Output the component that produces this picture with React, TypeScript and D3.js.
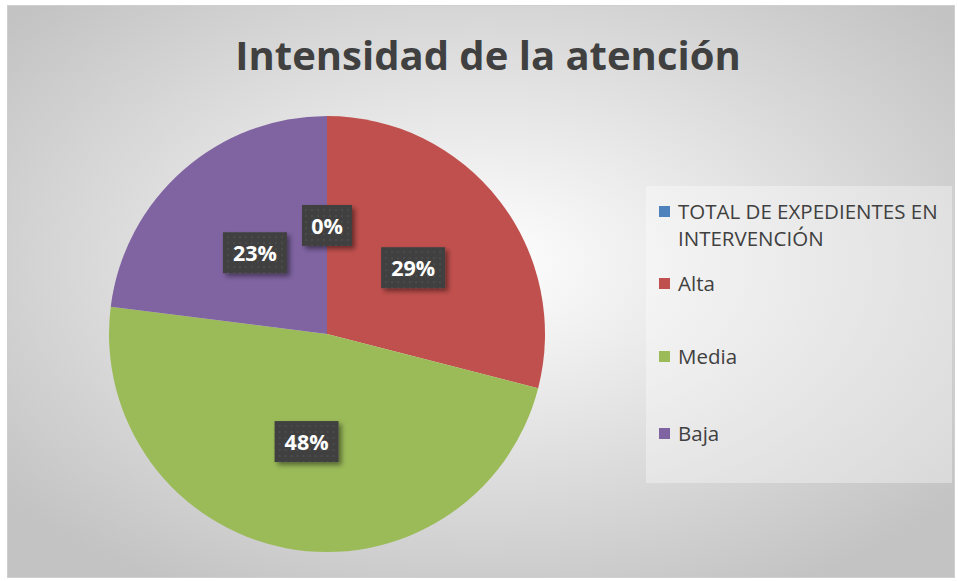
import React, { useEffect, useRef } from 'react';
import * as d3 from 'd3';

// chart data
const categories = ['TOTAL DE EXPEDIENTES EN INTERVENCIÓN', 'Alta', 'Media', 'Baja'];
const legendLines = [['TOTAL DE EXPEDIENTES EN', 'INTERVENCIÓN'], ['Alta'], ['Media'], ['Baja']];
const values = [0, 29, 48, 23];
const colors = ['#4f81bd', '#c0504d', '#9bbb59', '#8064a2'];
const title = 'Intensidad de la atención';

function App() {
  const svgRef = useRef<SVGSVGElement>(null);

  useEffect(() => {
    const svg = d3.select(svgRef.current);
    svg.selectAll('*').remove();
    const width = 958;
    const height = 581;
    const font = "'Open Sans', sans-serif";

    const defs = svg.append('defs');
    const bg = defs
      .append('radialGradient')
      .attr('id', 'bg')
      .attr('cx', '50%')
      .attr('cy', '45%')
      .attr('r', '65%');
    bg.append('stop').attr('offset', '0%').attr('stop-color', '#ffffff');
    bg.append('stop').attr('offset', '100%').attr('stop-color', '#c3c3c3');

    const dots = defs
      .append('pattern')
      .attr('id', 'dots')
      .attr('width', 6)
      .attr('height', 6)
      .attr('patternUnits', 'userSpaceOnUse');
    dots.append('rect').attr('width', 6).attr('height', 6).attr('fill', '#404040');
    dots.append('circle').attr('cx', 3).attr('cy', 3).attr('r', 1).attr('fill', '#505050');

    const shadow = defs.append('filter').attr('id', 'shadow').attr('x', '-30%').attr('y', '-30%').attr('width', '160%').attr('height', '160%');
    shadow
      .append('feDropShadow')
      .attr('dx', 3)
      .attr('dy', 3)
      .attr('stdDeviation', 2.5)
      .attr('flood-color', '#000')
      .attr('flood-opacity', 0.45);

    // background
    svg.append('rect').attr('width', width).attr('height', height).attr('fill', '#ffffff');
    svg
      .append('rect')
      .attr('x', 7.5)
      .attr('y', 5.5)
      .attr('width', 947)
      .attr('height', 572)
      .attr('fill', 'url(#bg)')
      .attr('stroke', '#cfcfcf')
      .attr('stroke-width', 1);

    svg
      .append('text')
      .attr('x', 488)
      .attr('y', 70)
      .attr('text-anchor', 'middle')
      .attr('font-family', font)
      .attr('font-weight', 'bold')
      .attr('font-size', 40)
      .attr('fill', '#404040')
      .text(title);

    // pie
    const cx = 327;
    const cy = 334;
    const r = 218;
    const pie = d3.pie<number>().sort(null).value((d) => d);
    const arcs = pie(values);
    const arc = d3.arc<d3.PieArcDatum<number>>().innerRadius(0).outerRadius(r);
    const labelArc = d3.arc<d3.PieArcDatum<number>>().innerRadius(r * 0.5).outerRadius(r * 0.5);

    const g = svg.append('g').attr('transform', `translate(${cx},${cy})`);
    g.selectAll('path')
      .data(arcs)
      .enter()
      .append('path')
      .attr('d', arc)
      .attr('fill', (d, i) => colors[i]);

    const total = d3.sum(values);
    const labels = g
      .selectAll('g.lbl')
      .data(arcs)
      .enter()
      .append('g')
      .attr('class', 'lbl')
      .attr('transform', (d) => `translate(${labelArc.centroid(d)})`);
    labels
      .append('rect')
      .attr('x', (d) => (d.value === 0 ? -25 : -32))
      .attr('y', -20)
      .attr('width', (d) => (d.value === 0 ? 50 : 64))
      .attr('height', 41)
      .attr('fill', 'url(#dots)')
      .attr('filter', 'url(#shadow)');
    labels
      .append('text')
      .attr('text-anchor', 'middle')
      .attr('dy', 8.5)
      .attr('font-family', font)
      .attr('font-weight', 'bold')
      .attr('font-size', 21.5)
      .attr('fill', '#ffffff')
      .text((d) => Math.round((d.value / total) * 100) + '%');

    // legend
    svg
      .append('rect')
      .attr('x', 646)
      .attr('y', 186)
      .attr('width', 306)
      .attr('height', 297)
      .attr('fill', '#ffffff')
      .attr('fill-opacity', 0.35);

    const legendY = [211, 283, 356, 433];
    const legend = svg
      .selectAll('g.leg')
      .data(categories)
      .enter()
      .append('g')
      .attr('class', 'leg')
      .attr('transform', (d, i) => `translate(659,${legendY[i]})`);
    legend
      .append('rect')
      .attr('x', 0)
      .attr('y', -5)
      .attr('width', 11)
      .attr('height', 11)
      .attr('fill', (d, i) => colors[i]);
    legend.each(function (d, i) {
      const t = d3
        .select(this)
        .append('text')
        .attr('font-family', font)
        .attr('font-size', 20.5)
        .attr('fill', '#404040');
      legendLines[i].forEach((line, j) => {
        t.append('tspan')
          .attr('x', 19)
          .attr('y', 7.5 + j * 27)
          .text(line);
      });
    });
  }, []);

  return (
    <svg
      ref={svgRef}
      width={958}
      height={581}
      style={{ position: 'absolute', left: 0, top: 0 }}
    ></svg>
  );
}

export default App;
